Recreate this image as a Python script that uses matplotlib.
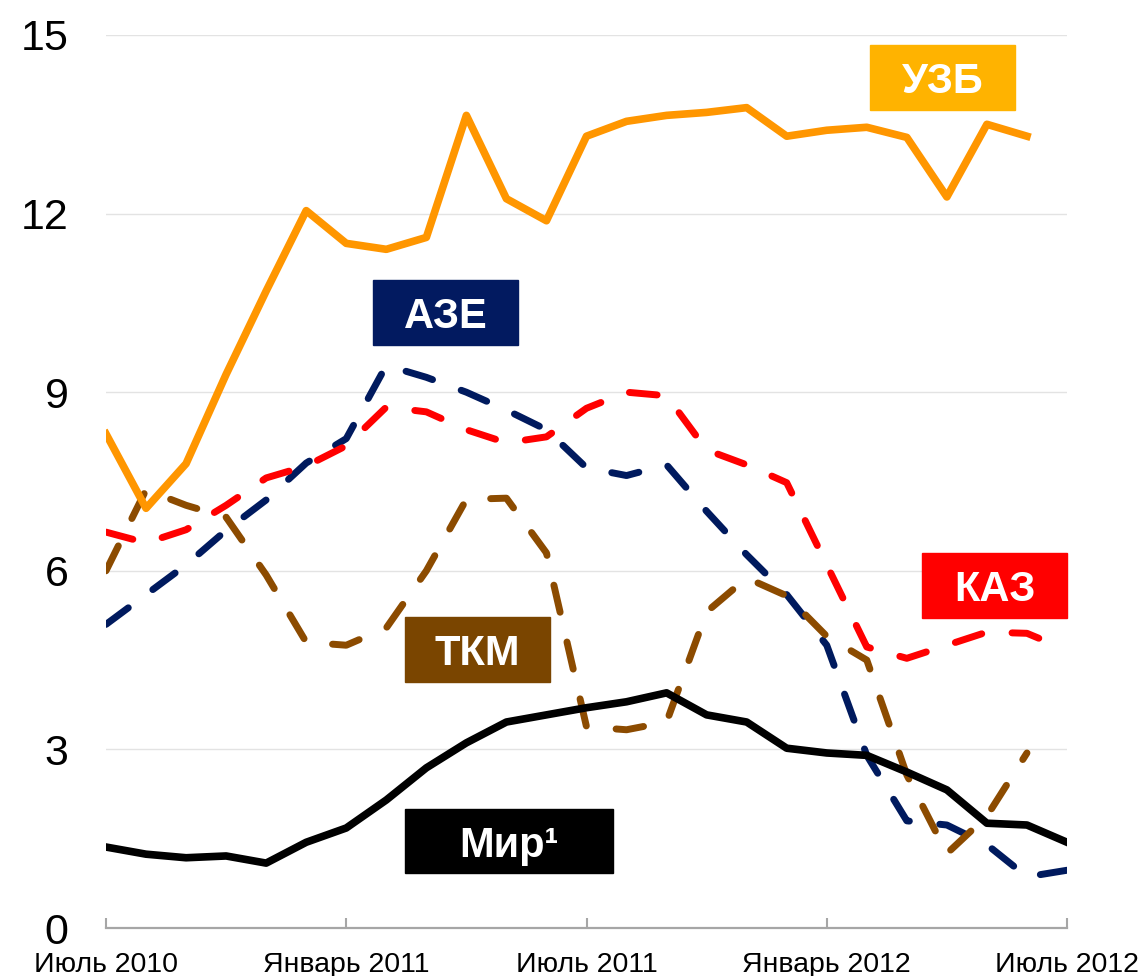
import matplotlib
matplotlib.use('Agg')
import matplotlib.pyplot as plt
from matplotlib.patches import Rectangle

# monthly data, Jul 2010 .. Jul 2012
months = list(range(25))
tick_pos = [0, 6, 12, 18, 24]
tick_labels = ['Июль 2010', 'Январь 2011', 'Июль 2011', 'Январь 2012', 'Июль 2012']

uzb = [8.3, 7.05, 7.8, 9.3, 10.7, 12.05, 11.5, 11.4, 11.6, 13.65, 12.25, 11.88,
       13.3, 13.55, 13.65, 13.7, 13.78, 13.3, 13.4, 13.45, 13.28, 12.28, 13.5, 13.3]
aze = [5.1, 5.6, 6.1, 6.68, 7.19, 7.81, 8.22, 9.45, 9.25, 9.0, 8.7, 8.37,
       7.73, 7.6, 7.78, 7.0, 6.27, 5.6, 4.75, 2.9, 1.8, 1.73, 1.4, 0.86, 0.97]
kaz = [6.65, 6.47, 6.69, 7.1, 7.56, 7.76, 8.1, 8.75, 8.67, 8.37, 8.15, 8.25,
       8.73, 9.0, 8.94, 8.03, 7.78, 7.48, 6.1, 4.72, 4.53, 4.75, 4.97, 4.95, 4.67]
tkm = [6.0, 7.36, 7.1, 6.9, 5.93, 4.8, 4.75, 5.04, 6.0, 7.2, 7.22, 6.3,
       3.38, 3.33, 3.46, 5.31, 5.88, 5.58, 4.9, 4.5, 2.57, 1.25, 1.88, 2.94]
mir = [1.36, 1.24, 1.18, 1.21, 1.09, 1.44, 1.68, 2.15, 2.69, 3.11, 3.46, 3.58,
       3.7, 3.8, 3.95, 3.58, 3.46, 3.02, 2.94, 2.9, 2.62, 2.32, 1.76, 1.73, 1.44]

plt.rcParams['font.family'] = ['Liberation Sans', 'DejaVu Sans']

W, H = 1145, 976
fig = plt.figure(figsize=(W / 100, H / 100), dpi=100)
ax = fig.add_axes([106 / W, 1 - 928 / H, (1067 - 106) / W, (928 - 35) / H])

dash = (4.0, 4.4)
lw = 5
ax.plot(months, aze, color='#001A5E', lw=lw, dashes=dash, dash_capstyle='round', zorder=3)
ax.plot(months, kaz, color='#FF0000', lw=lw, dashes=dash, dash_capstyle='round', zorder=4)
ax.plot(months[:len(tkm)], tkm, color='#8C4B00', lw=lw, dashes=dash, dash_capstyle='round', zorder=5)
ax.plot(months, mir, color='black', lw=5.5, zorder=6)
ax.plot(months[:len(uzb)], uzb, color='#FF9600', lw=5.5, zorder=7)

ax.set_xlim(0, 24)
ax.set_ylim(0, 15)
ax.set_yticks([0, 3, 6, 9, 12, 15])
ax.set_xticks(tick_pos)
ax.set_xticklabels(tick_labels, fontsize=20.5)
ax.tick_params(axis='y', length=0, pad=27, labelsize=31)
ax.tick_params(axis='x', direction='in', length=7, width=1.5, color='#A6A6A6', pad=17)
ax.grid(axis='y', color='#E3E3E3', lw=1)
ax.set_axisbelow(True)
for s in ['left', 'right', 'top']:
    ax.spines[s].set_visible(False)
ax.spines['bottom'].set_color('#A6A6A6')
ax.spines['bottom'].set_linewidth(1.6)
ax.spines['bottom'].set_zorder(1)


def label(text, x0, y0, x1, y1, color):
    fig.add_artist(Rectangle((x0 / W, 1 - y1 / H), (x1 - x0) / W, (y1 - y0) / H,
                             transform=fig.transFigure, color=color, zorder=10))
    fig.text((x0 + x1) / 2 / W, 1 - (y0 + y1) / 2 / H, text, color='white',
             fontsize=30, fontweight='bold', ha='center', va='center_baseline', zorder=11)


label('УЗБ', 870, 45, 1015, 110, '#FFB300')
label('АЗЕ', 373, 280, 518, 345, '#021A60')
label('КАЗ', 922, 553, 1067, 618, '#FF0000')
label('ТКМ', 405, 617, 550, 682, '#7A4500')
label('Мир¹', 405, 809, 613, 873, 'black')

fig.savefig('out.png', dpi=100)
